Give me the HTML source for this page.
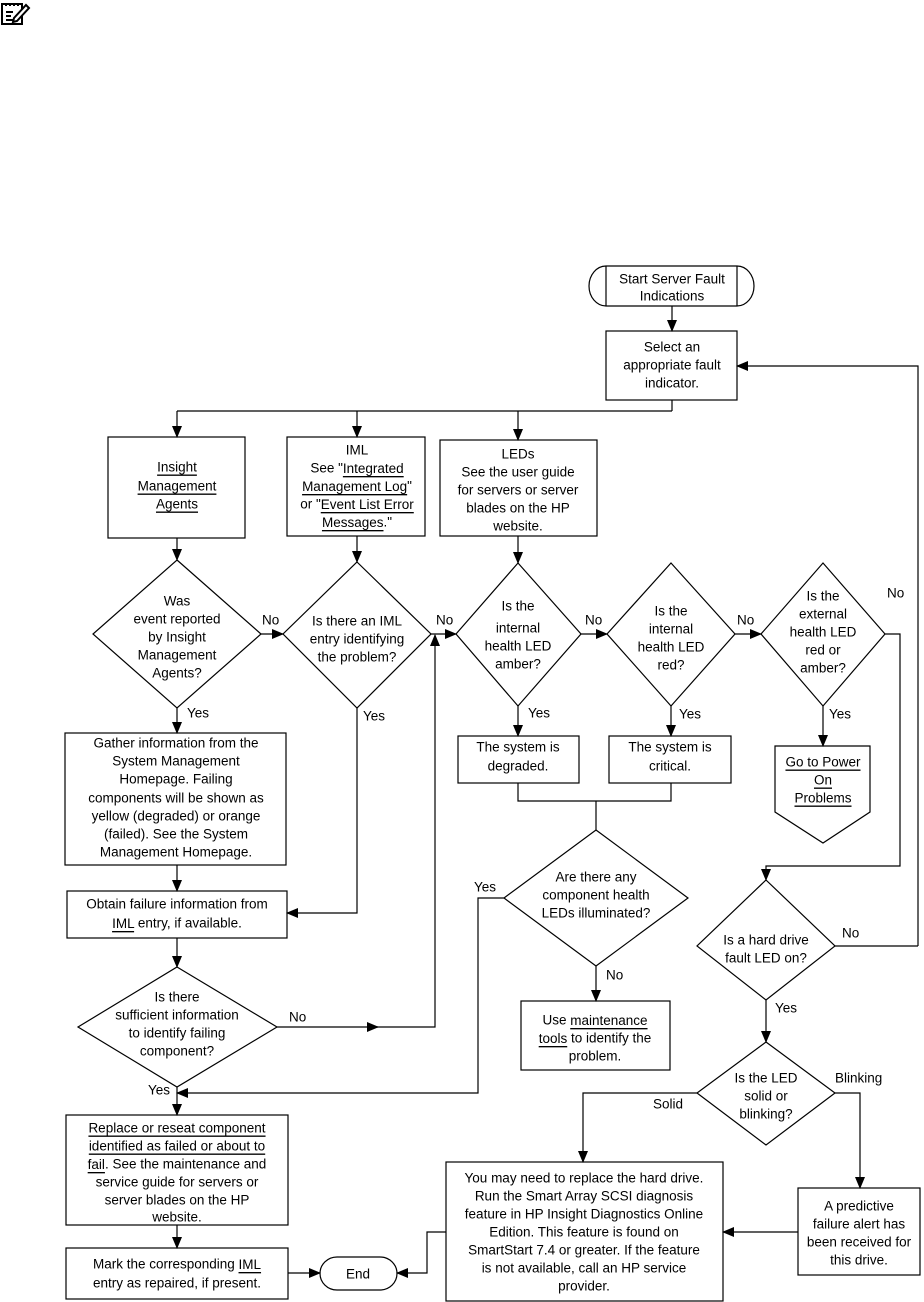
<!DOCTYPE html>
<html><head><meta charset="utf-8"><style>
html,body{margin:0;padding:0;background:#fff;width:924px;height:1302px;overflow:hidden}
svg{display:block}
text{font-family:"Liberation Sans",Arial,sans-serif;font-size:13.5px;fill:#000;dominant-baseline:central}
.u{text-decoration:underline}
</style></head><body>
<svg width="924" height="1302" viewBox="0 0 924 1302" xmlns="http://www.w3.org/2000/svg">
<defs><marker id="a" markerWidth="12" markerHeight="10" refX="11" refY="5" orient="auto" markerUnits="userSpaceOnUse"><path d="M0,0 L12,5 L0,10 z" fill="#000"/></marker></defs>
<!-- note icon -->
<g stroke="#000" stroke-width="2" fill="none">
<rect x="2" y="4" width="20" height="20"/>
<path d="M6,3v3M10,3v3M14,3v3M18,3v3"/>
<path d="M6,12h7M6,16h5M6,20h10"/>
<path d="M14,18 L26,5 L29,8 L17,21 L13,22 z" fill="#fff"/>
</g>
<g stroke="#000" stroke-width="1.2" fill="none">
<path d="M606,266 H737 A17,20 0 0 1 737,306 H606 A17,20 0 0 1 606,266 Z"/>
<path d="M606,266V306M737,266V306"/>
<path d="M672,306V331" marker-end="url(#a)"/>
<rect x="606" y="331" width="131" height="69"/>
<path d="M918,946V366H737" marker-end="url(#a)"/>
<path d="M672,400V411M177,411H672"/>
<path d="M177,411V437" marker-end="url(#a)"/>
<path d="M357,411V437" marker-end="url(#a)"/>
<path d="M518,411V440" marker-end="url(#a)"/>
<rect x="108" y="437" width="137" height="101"/>
<rect x="287" y="437" width="138" height="99"/>
<rect x="440" y="440" width="157" height="96"/>
<path d="M177,538V560" marker-end="url(#a)"/>
<path d="M357,536V562" marker-end="url(#a)"/>
<path d="M518,536V563" marker-end="url(#a)"/>
<path d="M177,560 L261,634 L177,708 L93,634 Z"/>
<path d="M357,562 L431,634 L357,708 L283,634 Z"/>
<path d="M518,563 L581,634 L518,706 L456,634 Z"/>
<path d="M671,563 L735,634 L671,706 L607,634 Z"/>
<path d="M823,563 L885,634 L823,706 L761,634 Z"/>
<path d="M261,634H283" marker-end="url(#a)"/>
<path d="M431,634H456" marker-end="url(#a)"/>
<path d="M581,634H607" marker-end="url(#a)"/>
<path d="M735,634H761" marker-end="url(#a)"/>
<path d="M885,634H900V866H766V880" marker-end="url(#a)"/>
<path d="M177,708V733" marker-end="url(#a)"/>
<rect x="65" y="733" width="221" height="132"/>
<path d="M177,865V891" marker-end="url(#a)"/>
<rect x="67" y="891" width="220" height="47"/>
<path d="M357,708V913H287" marker-end="url(#a)"/>
<path d="M177,938V967" marker-end="url(#a)"/>
<path d="M177,967 L277,1027 L177,1087 L78,1027 Z"/>
<path d="M277,1027H378" marker-end="url(#a)"/>
<path d="M370,1027H435V635" marker-end="url(#a)"/>
<path d="M177,1087V1115" marker-end="url(#a)"/>
<path d="M504,898H478V1093H177" marker-end="url(#a)"/>
<rect x="66" y="1115" width="222" height="110"/>
<path d="M177,1225V1248" marker-end="url(#a)"/>
<rect x="66" y="1248" width="222" height="51"/>
<path d="M288,1273H320" marker-end="url(#a)"/>
<path d="M337,1257H380A17,16.5 0 0 1 380,1290H337A17,16.5 0 0 1 337,1257Z"/>
<path d="M446,1232H427V1273H397" marker-end="url(#a)"/>
<path d="M518,706V736" marker-end="url(#a)"/>
<path d="M671,706V736" marker-end="url(#a)"/>
<rect x="458" y="736" width="121" height="47"/>
<rect x="609" y="736" width="122" height="47"/>
<path d="M518,783V801H671V783M596,801V830"/>
<path d="M596,830 L688,898 L596,966 L504,898 Z"/>
<path d="M596,966V1001" marker-end="url(#a)"/>
<rect x="521" y="1001" width="149" height="69"/>
<path d="M823,706V746" marker-end="url(#a)"/>
<path d="M775,746H870V812L823,843L775,812Z"/>
<path d="M766,880 L835,946 L766,1000 L697,946 Z"/>
<path d="M835,946H918"/>
<path d="M766,1000V1042" marker-end="url(#a)"/>
<path d="M766,1042 L835,1093 L766,1145 L697,1093 Z"/>
<path d="M835,1093H860V1188" marker-end="url(#a)"/>
<path d="M697,1093H583V1162" marker-end="url(#a)"/>
<rect x="446" y="1162" width="277" height="139"/>
<rect x="798" y="1188" width="122" height="87"/>
<path d="M798,1232H723" marker-end="url(#a)"/>
</g>
<g text-anchor="middle">
<text x="672" y="279">Start Server Fault</text><text x="672" y="296">Indications</text>
<text x="672" y="347">Select an</text><text x="672" y="365">appropriate fault</text><text x="672" y="383">indicator.</text>
<text x="177" y="467" class="u">Insight </text><text x="177" y="486" class="u">Management </text><text x="177" y="504" class="u">Agents</text>
<text x="357" y="450">IML</text>
<text x="357" y="468">See "<tspan class="u">Integrated </tspan></text>
<text x="357" y="486"><tspan class="u">Management Log</tspan>"</text>
<text x="357" y="504">or "<tspan class="u">Event List Error </tspan></text>
<text x="357" y="522"><tspan class="u">Messages</tspan>."</text>
<text x="518" y="454">LEDs</text><text x="518" y="472">See the user guide</text><text x="518" y="490">for servers or server</text><text x="518" y="508">blades on the HP</text><text x="518" y="526">website.</text>
<text x="177" y="601">Was</text><text x="177" y="619">event reported</text><text x="177" y="637">by Insight</text><text x="177" y="655">Management</text><text x="177" y="673">Agents?</text>
<text x="357" y="621">Is there an IML</text><text x="357" y="639">entry identifying</text><text x="357" y="657">the problem?</text>
<text x="518" y="606">Is the</text><text x="518" y="628">internal</text><text x="518" y="646">health LED</text><text x="518" y="664">amber?</text>
<text x="671" y="611">Is the</text><text x="671" y="629">internal</text><text x="671" y="647">health LED</text><text x="671" y="665">red?</text>
<text x="823" y="596">Is the</text><text x="823" y="614">external</text><text x="823" y="632">health LED</text><text x="823" y="650">red or</text><text x="823" y="668">amber?</text>
<text x="176" y="743">Gather information from the</text><text x="176" y="761">System Management</text><text x="176" y="779">Homepage. Failing</text><text x="176" y="798">components will be shown as</text><text x="176" y="816">yellow (degraded) or orange</text><text x="176" y="834">(failed). See the System</text><text x="176" y="852">Management Homepage.</text>
<text x="177" y="904">Obtain failure information from</text><text x="177" y="923"><tspan class="u">IML</tspan> entry, if available.</text>
<text x="177" y="997">Is there</text><text x="177" y="1015">sufficient information</text><text x="177" y="1033">to identify failing</text><text x="177" y="1051">component?</text>
<text x="177" y="1128" class="u">Replace or reseat component </text><text x="177" y="1146" class="u">identified as failed or about to </text>
<text x="177" y="1164"><tspan class="u">fail</tspan>. See the maintenance and</text><text x="177" y="1182">service guide for servers or</text><text x="177" y="1200">server blades on the HP</text><text x="177" y="1217">website.</text>
<text x="177" y="1264">Mark the corresponding <tspan class="u">IML</tspan></text><text x="177" y="1283">entry as repaired, if present.</text>
<text x="358" y="1274">End</text>
<text x="518" y="747">The system is</text><text x="518" y="766">degraded.</text>
<text x="670" y="747">The system is</text><text x="670" y="766">critical.</text>
<text x="823" y="762" class="u">Go to Power </text><text x="823" y="780" class="u">On </text><text x="823" y="798" class="u">Problems</text>
<text x="596" y="877">Are there any</text><text x="596" y="895">component health</text><text x="596" y="913">LEDs illuminated?</text>
<text x="595" y="1020">Use <tspan class="u">maintenance </tspan></text><text x="595" y="1038"><tspan class="u">tools</tspan> to identify the</text><text x="595" y="1056">problem.</text>
<text x="766" y="940">Is a hard drive</text><text x="766" y="958">fault LED on?</text>
<text x="766" y="1078">Is the LED</text><text x="766" y="1096">solid or</text><text x="766" y="1114">blinking?</text>
<text x="584" y="1178">You may need to replace the hard drive.</text><text x="584" y="1196">Run the Smart Array SCSI diagnosis</text><text x="584" y="1214">feature in HP Insight Diagnostics Online</text><text x="584" y="1232">Edition. This feature is found on</text><text x="584" y="1250">SmartStart 7.4 or greater. If the feature</text><text x="584" y="1268">is not available, call an HP service</text><text x="584" y="1286">provider.</text>
<text x="859" y="1206">A predictive</text><text x="859" y="1224">failure alert has</text><text x="859" y="1242">been received for</text><text x="859" y="1260">this drive.</text>
</g>
<g>
<text x="262" y="620">No</text><text x="436" y="620">No</text><text x="585" y="620">No</text><text x="737" y="620">No</text><text x="887" y="593">No</text>
<text x="187" y="713">Yes</text><text x="363" y="716">Yes</text><text x="528" y="713">Yes</text><text x="679" y="714">Yes</text><text x="829" y="714">Yes</text>
<text x="289" y="1017">No</text><text x="148" y="1090">Yes</text><text x="474" y="887">Yes</text><text x="606" y="975">No</text>
<text x="842" y="933">No</text><text x="775" y="1008">Yes</text><text x="835" y="1078">Blinking</text><text x="653" y="1104">Solid</text>
</g>
</svg>
</body></html>
